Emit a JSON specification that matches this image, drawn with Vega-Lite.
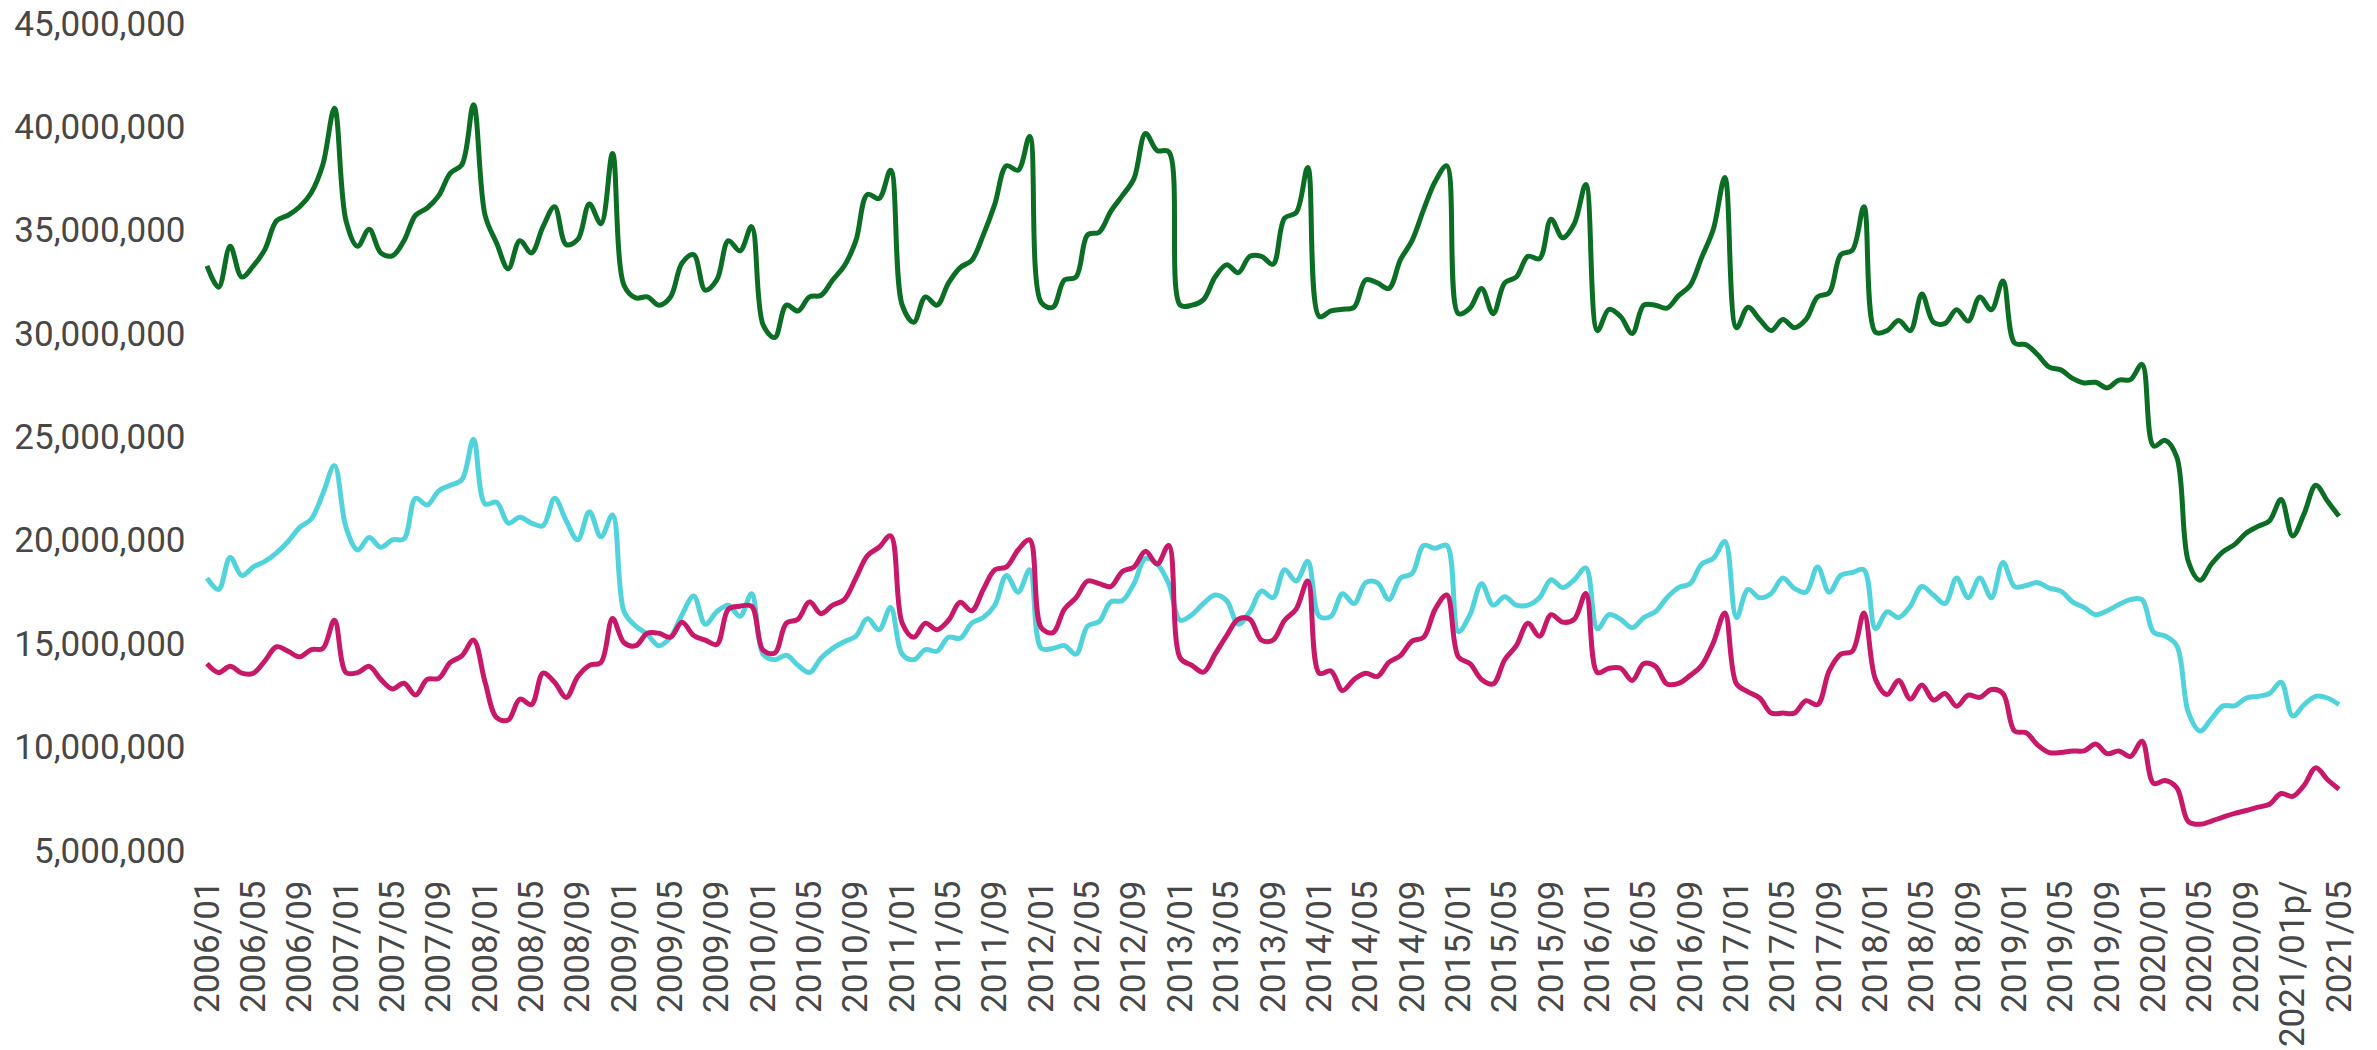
{
"$schema": "https://vega.github.io/schema/vega-lite/v6.json",
"width": 2132, "height": 827,
"autosize": {"type": "none"},
"padding": {"left": 207, "top": 24, "right": 38, "bottom": 199},
"config": {"view": {"stroke": null}, "font": "Roboto"},
"data": {"values": [
{"m":"2006/01","a":33300000,"b":18200000,"c":14060000},
{"m":"2006/02","a":32270000,"b":17650000,"c":13630000},
{"m":"2006/03","a":34250000,"b":19200000,"c":13930000},
{"m":"2006/04","a":32760000,"b":18330000,"c":13600000},
{"m":"2006/05","a":33300000,"b":18740000,"c":13600000},
{"m":"2006/06","a":34100000,"b":19010000,"c":14200000},
{"m":"2006/07","a":35480000,"b":19420000,"c":14880000},
{"m":"2006/08","a":35750000,"b":19970000,"c":14660000},
{"m":"2006/09","a":36160000,"b":20650000,"c":14390000},
{"m":"2006/10","a":36840000,"b":21060000,"c":14740000},
{"m":"2006/11","a":38200000,"b":22280000,"c":14800000},
{"m":"2006/12","a":40920000,"b":23640000,"c":16160000},
{"m":"2007/01","a":35480000,"b":20650000,"c":13630000},
{"m":"2007/02","a":34250000,"b":19560000,"c":13630000},
{"m":"2007/03","a":35070000,"b":20160000,"c":13930000},
{"m":"2007/04","a":33930000,"b":19690000,"c":13300000},
{"m":"2007/05","a":33790000,"b":20050000,"c":12840000},
{"m":"2007/06","a":34520000,"b":20100000,"c":13110000},
{"m":"2007/07","a":35750000,"b":22060000,"c":12540000},
{"m":"2007/08","a":36100000,"b":21740000,"c":13300000},
{"m":"2007/09","a":36700000,"b":22420000,"c":13350000},
{"m":"2007/10","a":37790000,"b":22690000,"c":14120000},
{"m":"2007/11","a":38200000,"b":22960000,"c":14440000},
{"m":"2007/12","a":41100000,"b":24920000,"c":15200000},
{"m":"2008/01","a":35750000,"b":21790000,"c":13160000},
{"m":"2008/02","a":34390000,"b":21870000,"c":11450000},
{"m":"2008/03","a":33160000,"b":20860000,"c":11340000},
{"m":"2008/04","a":34520000,"b":21140000,"c":12350000},
{"m":"2008/05","a":33930000,"b":20860000,"c":12080000},
{"m":"2008/06","a":35200000,"b":20730000,"c":13600000},
{"m":"2008/07","a":36160000,"b":22060000,"c":13160000},
{"m":"2008/08","a":34330000,"b":20970000,"c":12430000},
{"m":"2008/09","a":34580000,"b":20050000,"c":13440000},
{"m":"2008/10","a":36290000,"b":21410000,"c":13980000},
{"m":"2008/11","a":35340000,"b":20200000,"c":14120000},
{"m":"2008/12","a":38740000,"b":21250000,"c":16240000},
{"m":"2009/01","a":32350000,"b":16570000,"c":15070000},
{"m":"2009/02","a":31750000,"b":15880000,"c":14930000},
{"m":"2009/03","a":31800000,"b":15480000,"c":15530000},
{"m":"2009/04","a":31400000,"b":14930000,"c":15530000},
{"m":"2009/05","a":31800000,"b":15340000,"c":15340000},
{"m":"2009/06","a":33440000,"b":16430000,"c":16070000},
{"m":"2009/07","a":33840000,"b":17330000,"c":15420000},
{"m":"2009/08","a":32130000,"b":15970000,"c":15200000},
{"m":"2009/09","a":32620000,"b":16570000,"c":14990000},
{"m":"2009/10","a":34520000,"b":16890000,"c":16700000},
{"m":"2009/11","a":34030000,"b":16350000,"c":16840000},
{"m":"2009/12","a":35200000,"b":17440000,"c":16840000},
{"m":"2010/01","a":30440000,"b":14520000,"c":14710000},
{"m":"2010/02","a":29840000,"b":14250000,"c":14580000},
{"m":"2010/03","a":31400000,"b":14470000,"c":16020000},
{"m":"2010/04","a":31120000,"b":13980000,"c":16210000},
{"m":"2010/05","a":31800000,"b":13630000,"c":17050000},
{"m":"2010/06","a":31880000,"b":14330000,"c":16480000},
{"m":"2010/07","a":32620000,"b":14800000,"c":16890000},
{"m":"2010/08","a":33300000,"b":15120000,"c":17160000},
{"m":"2010/09","a":34520000,"b":15390000,"c":18200000},
{"m":"2010/10","a":36760000,"b":16240000,"c":19290000},
{"m":"2010/11","a":36560000,"b":15700000,"c":19690000},
{"m":"2010/12","a":37930000,"b":16780000,"c":20240000},
{"m":"2011/01","a":31400000,"b":14520000,"c":16020000},
{"m":"2011/02","a":30580000,"b":14250000,"c":15340000},
{"m":"2011/03","a":31800000,"b":14740000,"c":16020000},
{"m":"2011/04","a":31400000,"b":14660000,"c":15700000},
{"m":"2011/05","a":32480000,"b":15340000,"c":16160000},
{"m":"2011/06","a":33220000,"b":15290000,"c":17030000},
{"m":"2011/07","a":33570000,"b":16020000,"c":16620000},
{"m":"2011/08","a":34800000,"b":16290000,"c":17650000},
{"m":"2011/09","a":36300000,"b":16900000,"c":18600000},
{"m":"2011/10","a":38140000,"b":18330000,"c":18740000},
{"m":"2011/11","a":37930000,"b":17520000,"c":19560000},
{"m":"2011/12","a":39560000,"b":18600000,"c":20050000},
{"m":"2012/01","a":31530000,"b":14800000,"c":15800000},
{"m":"2012/02","a":31300000,"b":14800000,"c":15560000},
{"m":"2012/03","a":32620000,"b":14930000,"c":16700000},
{"m":"2012/04","a":32760000,"b":14520000,"c":17250000},
{"m":"2012/05","a":34800000,"b":15880000,"c":18060000},
{"m":"2012/06","a":34930000,"b":16100000,"c":17930000},
{"m":"2012/07","a":35940000,"b":17050000,"c":17790000},
{"m":"2012/08","a":36700000,"b":17110000,"c":18520000},
{"m":"2012/09","a":37520000,"b":17930000,"c":18740000},
{"m":"2012/10","a":39700000,"b":19150000,"c":19500000},
{"m":"2012/11","a":38880000,"b":18880000,"c":18880000},
{"m":"2012/12","a":38820000,"b":17930000,"c":19780000},
{"m":"2013/01","a":31400000,"b":16160000,"c":14330000},
{"m":"2013/02","a":31400000,"b":16430000,"c":13980000},
{"m":"2013/03","a":31670000,"b":16970000,"c":13650000},
{"m":"2013/04","a":32760000,"b":17380000,"c":14520000},
{"m":"2013/05","a":33350000,"b":17110000,"c":15420000},
{"m":"2013/06","a":32970000,"b":15970000,"c":16210000},
{"m":"2013/07","a":33760000,"b":16570000,"c":16210000},
{"m":"2013/08","a":33760000,"b":17570000,"c":15200000},
{"m":"2013/09","a":33380000,"b":17250000,"c":15200000},
{"m":"2013/10","a":35610000,"b":18600000,"c":16160000},
{"m":"2013/11","a":35880000,"b":18060000,"c":16700000},
{"m":"2013/12","a":38060000,"b":19010000,"c":18060000},
{"m":"2014/01","a":30850000,"b":16350000,"c":13600000},
{"m":"2014/02","a":31120000,"b":16350000,"c":13710000},
{"m":"2014/03","a":31200000,"b":17440000,"c":12760000},
{"m":"2014/04","a":31300000,"b":16970000,"c":13300000},
{"m":"2014/05","a":32620000,"b":17980000,"c":13600000},
{"m":"2014/06","a":32480000,"b":17980000,"c":13440000},
{"m":"2014/07","a":32210000,"b":17160000,"c":14120000},
{"m":"2014/08","a":33600000,"b":18200000,"c":14450000},
{"m":"2014/09","a":34520000,"b":18420000,"c":15150000},
{"m":"2014/10","a":36020000,"b":19780000,"c":15340000},
{"m":"2014/11","a":37380000,"b":19640000,"c":16700000},
{"m":"2014/12","a":38140000,"b":19780000,"c":17380000},
{"m":"2015/01","a":30990000,"b":15610000,"c":14390000},
{"m":"2015/02","a":31260000,"b":16430000,"c":14060000},
{"m":"2015/03","a":32210000,"b":17930000,"c":13300000},
{"m":"2015/04","a":30990000,"b":16890000,"c":13080000},
{"m":"2015/05","a":32480000,"b":17300000,"c":14250000},
{"m":"2015/06","a":32760000,"b":16890000,"c":14930000},
{"m":"2015/07","a":33760000,"b":16890000,"c":16020000},
{"m":"2015/08","a":33650000,"b":17250000,"c":15390000},
{"m":"2015/09","a":35560000,"b":18120000,"c":16430000},
{"m":"2015/10","a":34660000,"b":17740000,"c":16070000},
{"m":"2015/11","a":35340000,"b":18120000,"c":16210000},
{"m":"2015/12","a":37240000,"b":18690000,"c":17460000},
{"m":"2016/01","a":30170000,"b":15750000,"c":13630000},
{"m":"2016/02","a":31200000,"b":16430000,"c":13840000},
{"m":"2016/03","a":30850000,"b":16210000,"c":13840000},
{"m":"2016/04","a":30030000,"b":15800000,"c":13250000},
{"m":"2016/05","a":31400000,"b":16290000,"c":14060000},
{"m":"2016/06","a":31400000,"b":16570000,"c":13930000},
{"m":"2016/07","a":31260000,"b":17250000,"c":13080000},
{"m":"2016/08","a":31860000,"b":17740000,"c":13110000},
{"m":"2016/09","a":32350000,"b":17930000,"c":13490000},
{"m":"2016/10","a":33710000,"b":18880000,"c":13980000},
{"m":"2016/11","a":35070000,"b":19150000,"c":15070000},
{"m":"2016/12","a":37570000,"b":19970000,"c":16510000},
{"m":"2017/01","a":30310000,"b":16290000,"c":13080000},
{"m":"2017/02","a":31300000,"b":17650000,"c":12700000},
{"m":"2017/03","a":30710000,"b":17250000,"c":12400000},
{"m":"2017/04","a":30170000,"b":17460000,"c":11670000},
{"m":"2017/05","a":30710000,"b":18200000,"c":11670000},
{"m":"2017/06","a":30310000,"b":17700000,"c":11670000},
{"m":"2017/07","a":30710000,"b":17520000,"c":12270000},
{"m":"2017/08","a":31800000,"b":18740000,"c":12080000},
{"m":"2017/09","a":32000000,"b":17520000,"c":13710000},
{"m":"2017/10","a":33840000,"b":18330000,"c":14520000},
{"m":"2017/11","a":34060000,"b":18470000,"c":14660000},
{"m":"2017/12","a":36160000,"b":18600000,"c":16510000},
{"m":"2018/01","a":30090000,"b":15750000,"c":13300000},
{"m":"2018/02","a":30170000,"b":16570000,"c":12570000},
{"m":"2018/03","a":30660000,"b":16290000,"c":13250000},
{"m":"2018/04","a":30170000,"b":16840000,"c":12350000},
{"m":"2018/05","a":31940000,"b":17790000,"c":13030000},
{"m":"2018/06","a":30580000,"b":17380000,"c":12300000},
{"m":"2018/07","a":30520000,"b":16970000,"c":12620000},
{"m":"2018/08","a":31180000,"b":18200000,"c":12000000},
{"m":"2018/09","a":30630000,"b":17250000,"c":12540000},
{"m":"2018/10","a":31800000,"b":18200000,"c":12430000},
{"m":"2018/11","a":31180000,"b":17250000,"c":12810000},
{"m":"2018/12","a":32570000,"b":18960000,"c":12620000},
{"m":"2019/01","a":29570000,"b":17790000,"c":10800000},
{"m":"2019/02","a":29490000,"b":17840000,"c":10720000},
{"m":"2019/03","a":29000000,"b":17980000,"c":10120000},
{"m":"2019/04","a":28400000,"b":17710000,"c":9760000},
{"m":"2019/05","a":28270000,"b":17570000,"c":9760000},
{"m":"2019/06","a":27860000,"b":17050000,"c":9840000},
{"m":"2019/07","a":27640000,"b":16780000,"c":9840000},
{"m":"2019/08","a":27670000,"b":16430000,"c":10170000},
{"m":"2019/09","a":27400000,"b":16620000,"c":9710000},
{"m":"2019/10","a":27780000,"b":16920000,"c":9840000},
{"m":"2019/11","a":27800000,"b":17160000,"c":9570000},
{"m":"2019/12","a":28540000,"b":17160000,"c":10310000},
{"m":"2020/01","a":24590000,"b":15580000,"c":8270000},
{"m":"2020/02","a":24860000,"b":15400000,"c":8410000},
{"m":"2020/03","a":24050000,"b":14930000,"c":8060000},
{"m":"2020/04","a":19000000,"b":11700000,"c":6420000},
{"m":"2020/05","a":18100000,"b":10800000,"c":6290000},
{"m":"2020/06","a":18880000,"b":11400000,"c":6450000},
{"m":"2020/07","a":19480000,"b":12020000,"c":6640000},
{"m":"2020/08","a":19830000,"b":12020000,"c":6820000},
{"m":"2020/09","a":20380000,"b":12400000,"c":6960000},
{"m":"2020/10","a":20700000,"b":12480000,"c":7120000},
{"m":"2020/11","a":20970000,"b":12620000,"c":7260000},
{"m":"2020/12","a":22000000,"b":13160000,"c":7780000},
{"m":"2021/01p/","a":20240000,"b":11530000,"c":7640000},
{"m":"2021/02","a":21330000,"b":12080000,"c":8190000},
{"m":"2021/03","a":22690000,"b":12480000,"c":9030000},
{"m":"2021/04","a":21930000,"b":12400000,"c":8460000},
{"m":"2021/05","a":21190000,"b":12080000,"c":7990000}
]},
"transform": [{"fold": ["a", "b", "c"], "as": ["s", "v"]}],
"mark": {"type": "line", "interpolate": "catmull-rom", "strokeWidth": 5},
"encoding": {
  "x": {"field": "m", "type": "ordinal", "sort": null,
    "scale": {"type": "point", "padding": 0},
    "axis": {"title": null, "labelAngle": -90, "ticks": false, "domain": false, "grid": false,
      "labelFontSize": 35, "labelColor": "#474747", "labelPadding": 29, "labelLimit": 400,
      "labelOverlap": false, "labelBound": false, "labelFlush": false, "labelFont": "Roboto",
      "values": ["2006/01","2006/05","2006/09","2007/01","2007/05","2007/09","2008/01","2008/05","2008/09","2009/01","2009/05","2009/09","2010/01","2010/05","2010/09","2011/01","2011/05","2011/09","2012/01","2012/05","2012/09","2013/01","2013/05","2013/09","2014/01","2014/05","2014/09","2015/01","2015/05","2015/09","2016/01","2016/05","2016/09","2017/01","2017/05","2017/09","2018/01","2018/05","2018/09","2019/01","2019/05","2019/09","2020/01","2020/05","2020/09","2021/01p/","2021/05"]}},
  "y": {"field": "v", "type": "quantitative", "scale": {"domain": [5000000, 45000000]},
    "axis": {"title": null, "ticks": false, "domain": false, "grid": false, "format": ",.0f",
      "labelFontSize": 35, "labelColor": "#474747", "labelPadding": 22, "labelFont": "Roboto", "labelLimit": 400,
      "values": [5000000, 10000000, 15000000, 20000000, 25000000, 30000000, 35000000, 40000000, 45000000]}},
  "color": {"field": "s", "type": "nominal", "legend": null,
    "scale": {"domain": ["a", "b", "c"], "range": ["#0b6e24", "#52d3dc", "#c8186a"]}}
}
}
